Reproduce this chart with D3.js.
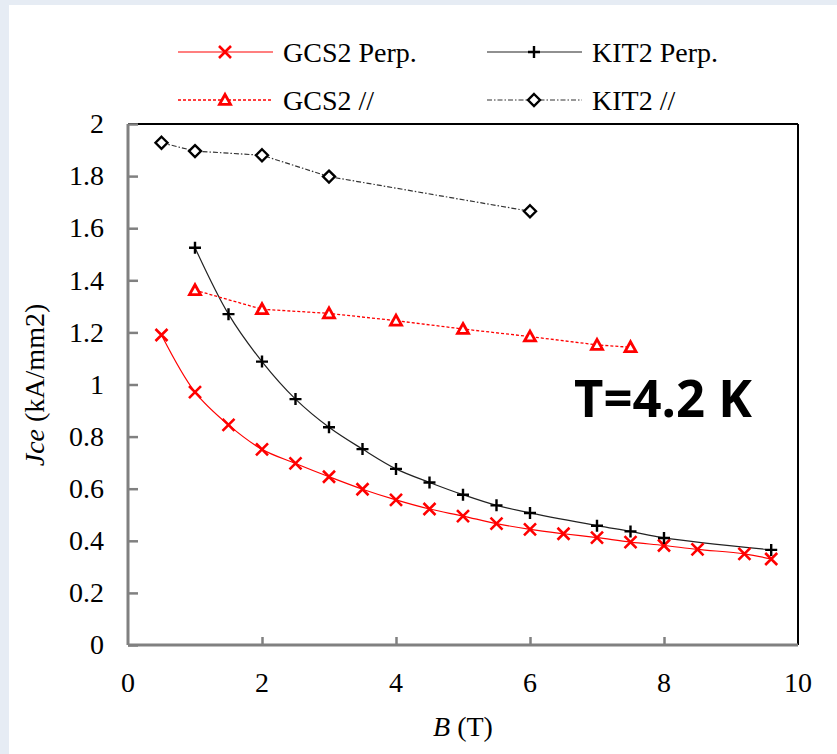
<!DOCTYPE html>
<html>
<head>
<meta charset="utf-8">
<script src="https://d3js.org/d3.v7.min.js"></script>
<style>
  html, body { margin: 0; padding: 0; background: #e6ecf4; }
  svg { display: block; }
</style>
</head>
<body>
<svg id="chart" width="837" height="754"></svg>
<script>
// Critical current density vs field, T = 4.2 K
const gcs2PerpB = [0.5, 1, 1.5, 2, 2.5, 3, 3.5, 4, 4.5, 5, 5.5, 6, 6.5, 7, 7.5, 8, 8.5, 9.2, 9.6];
const gcs2PerpJ = [1.19, 0.971, 0.845, 0.751, 0.697, 0.646, 0.598, 0.557, 0.522, 0.495, 0.466, 0.444, 0.427, 0.412, 0.395, 0.382, 0.367, 0.35, 0.33];

const kit2PerpB = [1, 1.5, 2, 2.5, 3, 3.5, 4, 4.5, 5, 5.5, 6, 7, 7.5, 8, 9.6];
const kit2PerpJ = [1.525, 1.27, 1.088, 0.944, 0.836, 0.752, 0.676, 0.624, 0.577, 0.536, 0.507, 0.458, 0.436, 0.411, 0.365];

const gcs2ParB = [1, 2, 3, 4, 5, 6, 7, 7.5];
const gcs2ParJ = [1.362, 1.289, 1.273, 1.245, 1.213, 1.184, 1.152, 1.143];

const kit2ParB = [0.5, 1, 2, 3, 6];
const kit2ParJ = [1.928, 1.896, 1.88, 1.798, 1.665];

const xTicks = [0, 2, 4, 6, 8, 10];
const yTicks = [0, 0.2, 0.4, 0.6, 0.8, 1, 1.2, 1.4, 1.6, 1.8, 2];

const seriesNames = ["GCS2 Perp.", "KIT2 Perp.", "GCS2 //", "KIT2 //"];

const svg = d3.select("#chart");
const W = 837, H = 754;

// white panel
svg.append("rect").attr("x", 9).attr("y", 5).attr("width", W - 9).attr("height", H - 5).attr("fill", "#ffffff");

const plot = { left: 128, right: 798, top: 124, bottom: 645 };
const x = d3.scaleLinear().domain([0, 10]).range([plot.left, plot.right]);
const y = d3.scaleLinear().domain([0, 2]).range([plot.bottom, plot.top]);

const serif = "'Liberation Serif', 'Times New Roman', serif";
const fs = 28;

// frame: top/right black, left/bottom gray
svg.append("line").attr("x1", plot.left).attr("x2", plot.right).attr("y1", plot.top).attr("y2", plot.top)
  .attr("stroke", "#000").attr("stroke-width", 2);
svg.append("line").attr("x1", plot.right).attr("x2", plot.right).attr("y1", plot.top).attr("y2", plot.bottom)
  .attr("stroke", "#000").attr("stroke-width", 2);

// axes with inward ticks
const yAxis = d3.axisRight(y).tickValues(yTicks).tickSize(10).tickFormat("");
const gy = svg.append("g").attr("transform", `translate(${plot.left},0)`).call(yAxis);
const xAxis = d3.axisTop(x).tickValues(xTicks.filter(d => d > 0 && d < 10)).tickSize(8).tickFormat("");
const gx = svg.append("g").attr("transform", `translate(0,${plot.bottom})`).call(xAxis);
[gx, gy].forEach(g => {
  g.selectAll("path.domain").attr("stroke", "#808080").attr("stroke-width", 3);
  g.selectAll(".tick line").attr("stroke", "#808080").attr("stroke-width", 2.5);
});
gx.select("path.domain").attr("d", `M${plot.left},0H${plot.right}`);
gy.select("path.domain").attr("d", `M0,${plot.top}V${plot.bottom}`);

// tick labels
svg.append("g").selectAll("text").data(yTicks).join("text")
  .attr("x", 104).attr("y", d => y(d)).attr("dy", "0.33em")
  .attr("text-anchor", "end").attr("font-family", serif).attr("font-size", fs).attr("fill", "#000")
  .text(d => d3.format("")(d));
svg.append("g").selectAll("text").data(xTicks).join("text")
  .attr("x", d => x(d)).attr("y", 692)
  .attr("text-anchor", "middle").attr("font-family", serif).attr("font-size", fs).attr("fill", "#000")
  .text(d => d);

// axis titles
const xt = svg.append("text").attr("x", 463).attr("y", 736).attr("text-anchor", "middle")
  .attr("font-family", serif).attr("font-size", fs).attr("fill", "#000");
xt.append("tspan").attr("font-style", "italic").text("B");
xt.append("tspan").text(" (T)");

const yt = svg.append("text").attr("transform", `translate(44,385) rotate(-90)`).attr("text-anchor", "middle")
  .attr("font-family", serif).attr("font-size", fs).attr("fill", "#000");
yt.append("tspan").attr("font-style", "italic").text("Jce");
yt.append("tspan").text(" (kA/mm2)");

// marker drawing helpers
function markerX(g, cx, cy) {
  const s = 6;
  g.append("path").attr("d", `M${cx - s},${cy - s}L${cx + s},${cy + s}M${cx - s},${cy + s}L${cx + s},${cy - s}`)
    .attr("stroke", "#ff0000").attr("stroke-width", 2.6).attr("fill", "none");
}
function markerPlus(g, cx, cy) {
  const s = 6;
  g.append("path").attr("d", `M${cx - s},${cy}L${cx + s},${cy}M${cx},${cy - s}L${cx},${cy + s}`)
    .attr("stroke", "#000").attr("stroke-width", 2.4).attr("fill", "none");
}
function markerTri(g, cx, cy) {
  const s = 5.5;
  g.append("path").attr("d", `M${cx},${cy - s}L${cx + s},${cy + s * 0.8}L${cx - s},${cy + s * 0.8}Z`)
    .attr("stroke", "#ff0000").attr("stroke-width", 2.8).attr("fill", "#fff").attr("stroke-linejoin", "miter");
}
function markerDiamond(g, cx, cy) {
  const s = 6;
  g.append("path").attr("d", `M${cx},${cy - s}L${cx + s},${cy}L${cx},${cy + s}L${cx - s},${cy}Z`)
    .attr("stroke", "#000").attr("stroke-width", 2.4).attr("fill", "#fff");
}

const series = [
  { name: seriesNames[0], B: gcs2PerpB, J: gcs2PerpJ, color: "#ff0000", width: 1.2, dash: null, curve: d3.curveCatmullRom, marker: markerX },
  { name: seriesNames[1], B: kit2PerpB, J: kit2PerpJ, color: "#222222", width: 1.2, dash: null, curve: d3.curveCatmullRom, marker: markerPlus },
  { name: seriesNames[2], B: gcs2ParB, J: gcs2ParJ, color: "#ff0000", width: 1.3, dash: "3,2", curve: d3.curveLinear, marker: markerTri },
  { name: seriesNames[3], B: kit2ParB, J: kit2ParJ, color: "#333333", width: 1.2, dash: "5,2,1.5,2", curve: d3.curveLinear, marker: markerDiamond }
];

const linesG = svg.append("g");
const marksG = svg.append("g");
series.forEach(s => {
  const pts = s.B.map((b, i) => [b, s.J[i]]);
  const line = d3.line().x(d => x(d[0])).y(d => y(d[1])).curve(s.curve);
  linesG.append("path").attr("d", line(pts)).attr("fill", "none")
    .attr("stroke", s.color).attr("stroke-width", s.width)
    .attr("stroke-dasharray", s.dash);
  pts.forEach(p => s.marker(marksG, x(p[0]), y(p[1])));
});

// legend
const legend = svg.append("g");
const legPos = [
  { lx: 178, ly: 52 }, { lx: 487, ly: 52 },
  { lx: 178, ly: 100 }, { lx: 487, ly: 100 }
];
series.forEach((s, i) => {
  const p = legPos[i];
  legend.append("line").attr("x1", p.lx).attr("x2", p.lx + 95).attr("y1", p.ly).attr("y2", p.ly)
    .attr("stroke", s.color).attr("stroke-width", s.width).attr("stroke-dasharray", s.dash);
  s.marker(legend, p.lx + 47, p.ly);
  legend.append("text").attr("x", p.lx + 105).attr("y", p.ly).attr("dy", "0.34em")
    .attr("font-family", serif).attr("font-size", fs).attr("fill", "#000").text(s.name);
});

// temperature annotation
const ann = svg.append("text").attr("x", 574).attr("y", 417)
  .attr("font-family", "'Open Sans', 'Noto Sans', sans-serif").attr("font-weight", "bold")
  .attr("font-size", 52).attr("fill", "#000").text("T=4.2 K");
const annW = ann.node().getComputedTextLength();
if (annW > 180) ann.attr("textLength", 178).attr("lengthAdjust", "spacingAndGlyphs");
</script>
</body>
</html>
